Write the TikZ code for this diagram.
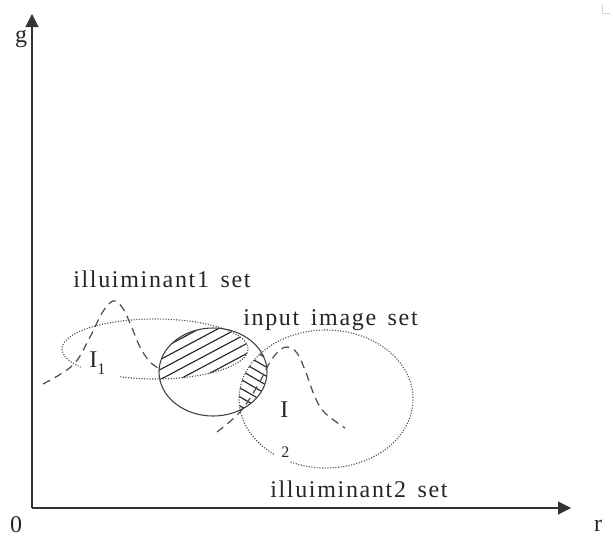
\documentclass[tikz,border=0pt]{standalone}
\usepackage{fontspec}
\setmainfont{Liberation Serif}
\newfontfamily\lblfont[LetterSpace=7,WordSpace=1.5]{Liberation Serif}
\usetikzlibrary{arrows.meta}
\begin{document}
\begin{tikzpicture}[x=0.75pt,y=-0.75pt,
  axis/.style={line width=0.8pt, black!80},
  dotline/.style={gray!60!black, line width=0.85pt, dash pattern=on 0.8pt off 1.2pt},
  setline/.style={black!75, line width=0.8pt},
  distline/.style={black!70, line width=0.9pt, dash pattern=on 6pt off 4pt},
  hatch/.style={black!85, line width=0.85pt},
  lbl/.style={font=\lblfont\fontsize{18}{21}\selectfont, text=black!85, inner sep=0pt},
  small/.style={font=\fontsize{12}{13}\selectfont, text=black!85, inner sep=0pt}]

\useasboundingbox (0,0) rectangle (613,539);

% corner mark
\draw[gray!35, line width=0.6pt] (602,5) -- (602,13) -- (610,13);

% axes
\coordinate (O) at (32,508);
\coordinate (gtip) at (32,14);
\coordinate (rtip) at (571,508);
\draw[axis, -{Triangle[length=9.75pt,width=9.75pt]}] (O) -- (gtip);
\draw[axis, -{Triangle[length=9.75pt,width=9.75pt]}] (O) -- (rtip);
\node[lbl] (glab) at (21,39) {g};
\node[lbl] (olab) at (16,525) {0};
\node[lbl] (rlab) at (598,526) {r};

% hatching: input set inside illuminant 1 set
\begin{scope}
  \clip (213,372) ellipse[x radius=54, y radius=44];
  \clip (155,349) ellipse[x radius=93, y radius=30];
  \foreach \v in {345,355,...,425}
    \draw[hatch] (150,\v) -- ++(-28:160);
\end{scope}

% hatching: input set inside illuminant 2 set
\begin{scope}
  \clip (213,372) ellipse[x radius=54, y radius=44];
  \clip (326,399) ellipse[x radius=87, y radius=69];
  \foreach \v in {318,327,...,400}
    \draw[hatch] (228,\v) -- ++(30:70);
\end{scope}

% illuminant 1 set (dotted, open near its label)
\draw[dotline] (155,349) ++(112:93 and 30)
  arc[start angle=112, end angle=-217, x radius=93, y radius=30];

% illuminant 2 set (dotted, open near its label)
\draw[dotline] (326,399) ++(114:87 and 69)
  arc[start angle=114, end angle=-234, x radius=87, y radius=69];

% input image set
\draw[setline] (213,372) ellipse[x radius=54, y radius=44];

% illuminant distributions
\draw[distline] plot[smooth, tension=0.6] coordinates
  {(43,384) (73,365) (90,337) (102,313) (113,301) (122,307) (130,323) (140,347) (150,362) (160,369)};
\draw[distline] plot[smooth, tension=0.6] coordinates
  {(217,432) (240,412) (258,385) (270,362) (280,350) (288,347) (297,353) (305,370) (315,397) (325,413) (345,428)};

% labels
\node[lbl, anchor=base west] (l1) at (73,287) {illuiminant1 set};
\node[lbl, anchor=base west] (lin) at (243,325) {input image set};
\node[lbl, anchor=base west] (l2) at (270,497) {illuiminant2 set};
\node[lbl, anchor=base west] (i1) at (89,367) {I\raisebox{-0.3em}{\fontsize{12}{13}\selectfont 1}};
\node[lbl, anchor=base west] (i2) at (280,417) {I};
\node[small, anchor=base west] (i2s) at (281,457) {2};
\end{tikzpicture}
\end{document}
